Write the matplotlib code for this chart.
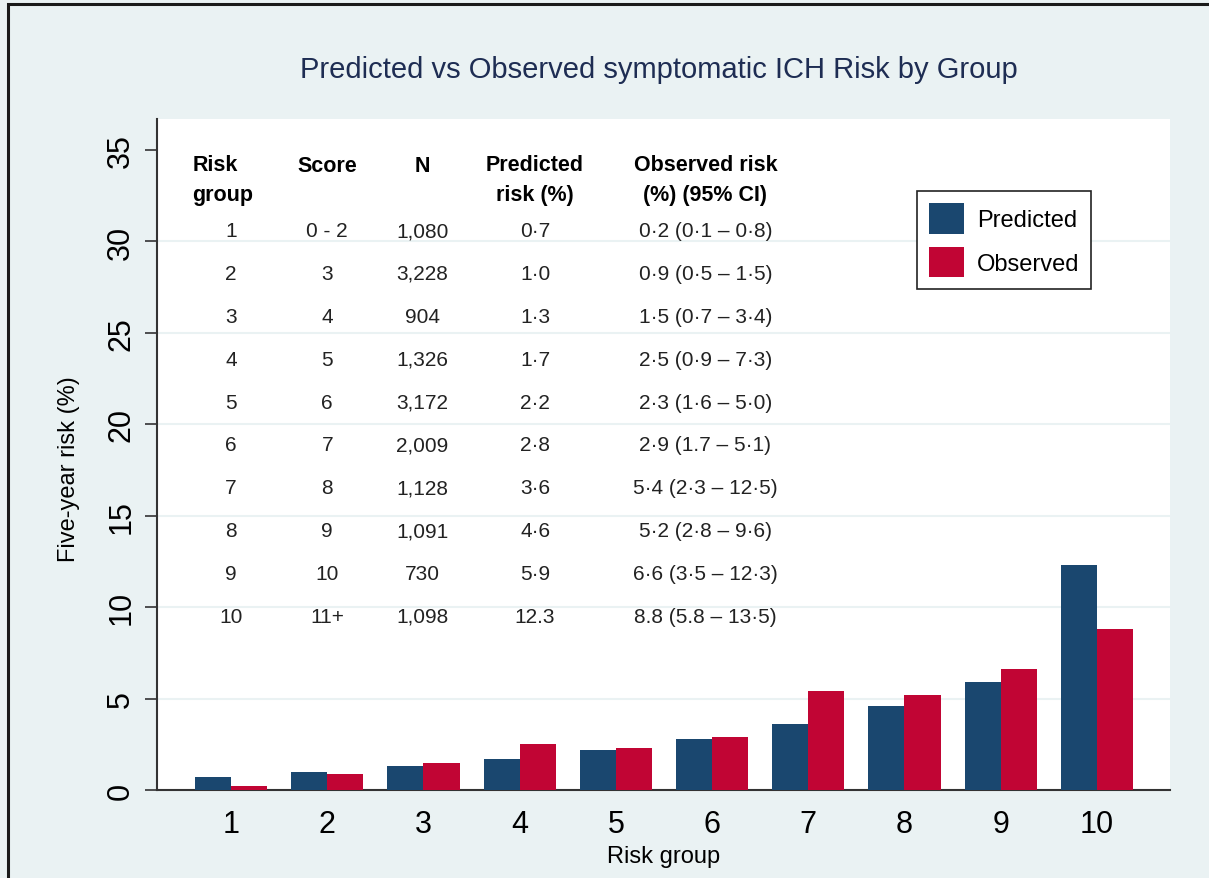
import matplotlib
matplotlib.use('Agg')
import matplotlib.pyplot as plt
from matplotlib.patches import Rectangle
import numpy as np

plt.rcParams['font.family'] = ['Liberation Sans', 'DejaVu Sans']

# data
groups = ['1', '2', '3', '4', '5', '6', '7', '8', '9', '10']
scores = ['0 - 2', '3', '4', '5', '6', '7', '8', '9', '10', '11+']
n_pat = ['1,080', '3,228', '904', '1,326', '3,172', '2,009', '1,128', '1,091', '730', '1,098']
pred_txt = ['0·7', '1·0', '1·3', '1·7', '2·2', '2·8', '3·6', '4·6', '5·9', '12.3']
obs_txt = ['0·2 (0·1 – 0·8)', '0·9 (0·5 – 1·5)', '1·5 (0·7 – 3·4)', '2·5 (0·9 – 7·3)',
           '2·3 (1·6 – 5·0)', '2·9 (1.7 – 5·1)', '5·4 (2·3 – 12·5)', '5·2 (2·8 – 9·6)',
           '6·6 (3·5 – 12·3)', '8.8 (5.8 – 13·5)']
predicted = [0.7, 1.0, 1.3, 1.7, 2.2, 2.8, 3.6, 4.6, 5.9, 12.3]
observed = [0.2, 0.9, 1.5, 2.5, 2.3, 2.9, 5.4, 5.2, 6.6, 8.8]

bg = '#EAF2F3'
c_pred = '#1A476F'
c_obs = '#C10534'
title_col = '#1E2D53'

fig = plt.figure(figsize=(12.09, 8.79), dpi=100, facecolor=bg)
fig.patches.append(Rectangle((8/1209, -0.1), 1.2, 1.1 - 5/879, transform=fig.transFigure,
                             fill=False, edgecolor='#1a1a1a', linewidth=2.2))
ax = fig.add_axes([157/1209, 88/879, 1013/1209, 671/879])
ax.set_facecolor('white')

x = np.arange(1, len(groups) + 1)
w = 0.375
ax.bar(x - w/2, predicted, w, color=c_pred, label='Predicted', zorder=3)
ax.bar(x + w/2, observed, w, color=c_obs, label='Observed', zorder=3)

ax.set_xlim(0.23, 10.76)
ax.set_ylim(0, 36.7)
ax.set_xticks(x)
ax.set_xticklabels(groups, fontsize=22)
ax.set_yticks(range(0, 36, 5))
ax.set_yticklabels([str(v) for v in range(0, 36, 5)], fontsize=22, rotation=90, va='center')
ax.tick_params(axis='x', length=0, pad=14)
ax.tick_params(axis='y', length=9, width=1.2, pad=6, color='#333333')
ax.grid(axis='y', color=bg, linewidth=1.5, zorder=0)
ax.yaxis.get_gridlines()[-1].set_visible(False)
for s in ['top', 'right']:
    ax.spines[s].set_visible(False)
for s in ['left', 'bottom']:
    ax.spines[s].set_color('#333333')
    ax.spines[s].set_linewidth(1.5)

ax.set_xlabel('Risk group', fontsize=17, labelpad=4)
ax.set_ylabel('Five-year risk (%)', fontsize=17)
ax.yaxis.set_label_coords(-0.076, 0.48)
fig.text(659/1209, 1 - 70/879, 'Predicted vs Observed symptomatic ICH Risk by Group',
         fontsize=21, color=title_col, ha='center', va='center')

# table inside the plot
col_x = [1.0, 2.0, 2.99, 4.16, 5.93]
hdr_y = 33.4
hfs = 15.5
ax.text(0.6, hdr_y, 'Risk\ngroup', fontsize=hfs, fontweight='bold', ha='left', va='center',
        linespacing=1.6)
ax.text(col_x[1], 34.17, 'Score', fontsize=hfs, fontweight='bold', ha='center', va='center')
ax.text(col_x[2], 34.17, 'N', fontsize=hfs, fontweight='bold', ha='center', va='center')
ax.text(col_x[3], hdr_y, 'Predicted\nrisk (%)', fontsize=hfs, fontweight='bold', ha='center',
        va='center', linespacing=1.6)
ax.text(col_x[4], hdr_y, 'Observed risk\n(%) (95% CI)', fontsize=hfs, fontweight='bold',
        ha='center', va='center', linespacing=1.6)

row0 = 30.6
step = 2.345
for i in range(len(groups)):
    yy = row0 - i * step
    for cx, txt in zip(col_x, [groups[i], scores[i], n_pat[i], pred_txt[i], obs_txt[i]]):
        ax.text(cx, yy, txt, fontsize=15, ha='center', va='center', color='#222222')

leg = ax.legend(loc='upper left', bbox_to_anchor=(0.750, 0.892), borderaxespad=0,
                fontsize=17, fancybox=False, edgecolor='#222222', framealpha=1,
                handlelength=1.5, handleheight=1.6, labelspacing=0.55, borderpad=0.5,
                handletextpad=0.55)
leg.get_frame().set_linewidth(1.2)

fig.savefig('out.png', dpi=100, facecolor=bg)
